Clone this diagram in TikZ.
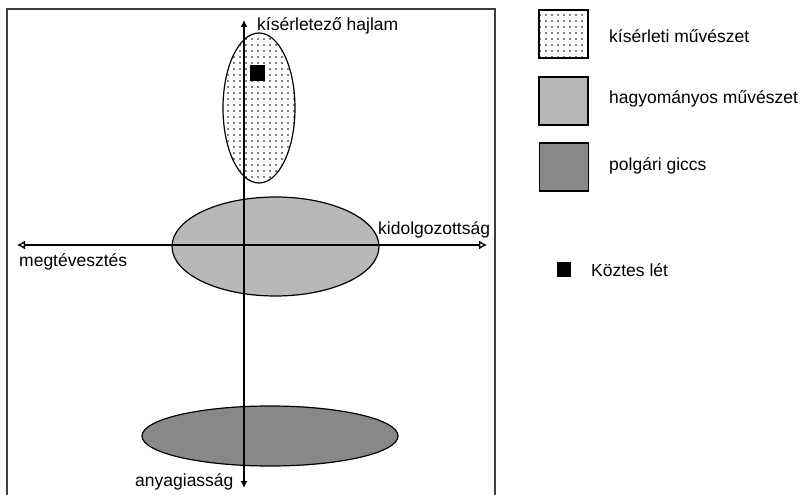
\documentclass[tikz,border=0pt]{standalone}
\usepackage{fontspec}
\setmainfont{Liberation Sans}
\usetikzlibrary{arrows.meta,patterns.meta,shapes.geometric}
\definecolor{framegray}{HTML}{404040}
\definecolor{midgray}{HTML}{B8B8B8}
\definecolor{darkgray}{HTML}{888888}
\tikzset{
  lbl/.style={inner sep=0pt, anchor=base west, font=\fontsize{17.5}{20}\selectfont},
  dotfill/.style={pattern={Dots[distance=6pt, radius=0.8pt]}, pattern color=black},
  zone/.style={ellipse, draw=black, line width=1.2pt, inner sep=0pt},
  legbox/.style={rectangle, draw=black, line width=1.5pt, minimum width=49pt, minimum height=48pt, inner sep=0pt},
  axis/.style={line width=1.3pt, black},
}
\begin{document}
\begin{tikzpicture}[x=1pt,y=-1pt]
\useasboundingbox (0,0) rectangle (807,495);
% frame
\draw[framegray, line width=2pt] (7,495) -- (7,9) -- (495,9) -- (495,495);
% zones
\node[zone, dotfill, minimum width=72pt, minimum height=150pt] (exp) at (259,108) {};
\node[zone, fill=midgray, minimum width=207pt, minimum height=99pt] (trad) at (275.5,246.5) {};
\node[zone, fill=darkgray, minimum width=256pt, minimum height=60pt] (kitsch) at (270,436) {};
\node[fill=black, minimum width=15pt, minimum height=16pt, inner sep=0pt] (mid) at (257.5,73) {};
% axes
\coordinate (top) at (244,20);
\coordinate (bot) at (244,488);
\coordinate (left) at (17,245);
\coordinate (right) at (487,245);
\draw[axis, {Latex[length=7pt,width=7pt]}-{Latex[length=7pt,width=7pt]}] (top) -- (bot);
\draw[axis, {Latex[open,length=8pt,width=9pt]}-{Latex[open,length=8pt,width=9pt]}] (left) -- (right);
% axis labels
\node[lbl] (ltop) at (257,31) {kísérletező hajlam};
\node[lbl] (lright) at (378,234) {kidolgozottság};
\node[lbl] (lleft) at (19,266) {megtévesztés};
\node[lbl] (lbot) at (135,486) {anyagiasság};
% legend
\node[legbox, dotfill] (k1) at (563.5,34) {};
\node[legbox, fill=midgray] (k2) at (563.5,101) {};
\node[legbox, fill=darkgray] (k3) at (564,167) {};
\node[fill=black, minimum width=14pt, minimum height=15pt, inner sep=0pt] (k4) at (564,269.5) {};
\node[lbl] (t1) at (609,43) {kísérleti művészet};
\node[lbl] (t2) at (609,103) {hagyományos művészet};
\node[lbl] (t3) at (609,170) {polgári giccs};
\node[lbl] (t4) at (591,276) {Köztes lét};
\end{tikzpicture}
\end{document}
